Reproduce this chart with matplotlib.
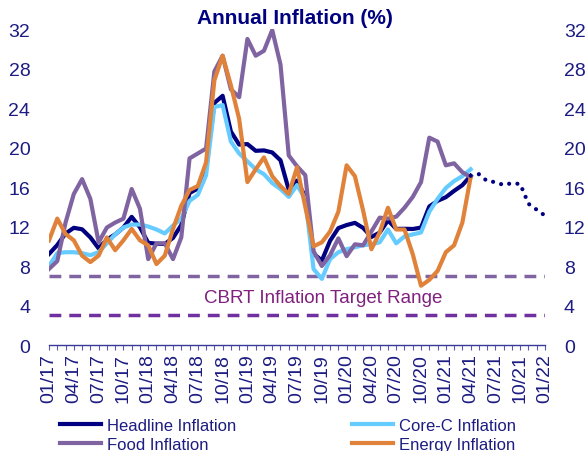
import numpy as np
import matplotlib.pyplot as plt
from matplotlib.ticker import MultipleLocator

# monthly values, Jan 2017 .. Apr 2021
headline = [9.22, 10.13, 11.29, 11.87, 11.72, 10.90, 9.79, 10.68, 11.20, 11.90, 12.98, 11.92,
            10.35, 10.26, 10.23, 10.85, 12.15, 15.39, 15.85, 17.90, 24.52, 25.24, 21.62, 20.30,
            20.35, 19.67, 19.71, 19.50, 18.71, 15.72, 16.65, 15.01, 9.26, 8.55, 10.56, 11.84,
            12.15, 12.37, 11.86, 10.94, 11.39, 12.62, 11.76, 11.77, 11.75, 11.89, 14.03, 14.60,
            14.97, 15.61, 16.19, 17.14]
core_c = [8.0, 9.3, 9.4, 9.4, 9.3, 9.1, 9.4, 10.3, 11.2, 11.9, 12.2, 12.2,
          12.0, 11.7, 11.3, 12.1, 12.8, 14.6, 15.2, 17.2, 24.1, 24.3, 20.6, 19.4,
          18.6, 17.8, 17.3, 16.4, 15.8, 15.0, 16.2, 14.8, 7.7, 6.7, 8.7, 9.4,
          9.7, 9.9, 10.1, 10.2, 10.4, 11.7, 10.3, 11.0, 11.2, 11.4, 13.5, 14.8,
          15.9, 16.6, 17.1, 17.8]
food = [7.7, 8.5, 12.4, 15.3, 16.8, 14.8, 10.4, 11.9, 12.4, 12.8, 15.8, 13.8,
        8.7, 10.3, 10.3, 8.7, 10.9, 18.9, 19.4, 19.9, 27.7, 29.3, 25.9, 25.1,
        31.0, 29.3, 29.8, 31.9, 28.4, 19.2, 18.1, 17.2, 9.5, 8.0, 9.1, 10.8,
        9.0, 10.2, 10.1, 11.5, 12.9, 12.8, 13.0, 13.9, 15.0, 16.5, 21.0, 20.6,
        18.2, 18.4, 17.5, 17.0]
energy = [10.6, 12.8, 11.25, 10.6, 9.05, 8.4, 9.05, 10.9, 9.6, 10.6, 11.75, 10.6,
          10.1, 8.2, 9.05, 11.75, 14.1, 15.7, 16.1, 18.5, 26.8, 29.3, 26.3, 22.9,
          16.5, 17.8, 19.0, 17.1, 16.1, 15.3, 18.0, 14.0, 10.0, 10.4, 11.5, 13.5,
          18.2, 17.1, 13.6, 9.7, 11.4, 13.9, 11.7, 11.7, 9.2, 6.0, 6.6, 7.5,
          9.4, 10.1, 12.4, 17.0]
# headline path, Apr 2021 .. Jan 2022 (dotted)
forecast = [17.14, 17.3, 16.6, 16.5, 16.2, 16.4, 16.3, 14.3, 13.7, 13.1]

target_upper = 7
target_lower = 3
tick_labels = ['01/17', '04/17', '07/17', '10/17', '01/18', '04/18', '07/18', '10/18',
               '01/19', '04/19', '07/19', '10/19', '01/20', '04/20', '07/20', '10/20',
               '01/21', '04/21', '07/21', '10/21', '01/22']

NAVY = '#000080'
LIGHT_BLUE = '#66CCFF'
PURPLE = '#8064A2'
ORANGE = '#E0823A'
TXT = '#1c1c82'

plt.rcParams['font.family'] = ['Liberation Sans', 'DejaVu Sans']

fig = plt.figure(figsize=(5.87, 4.52), dpi=100)
ax = fig.add_axes([0.0835, 0.2345, 0.845, 0.699])

x = np.arange(len(headline))
h1, = ax.plot(x, headline, color=NAVY, lw=3, label='Headline Inflation', zorder=3)
h2, = ax.plot(x, core_c, color=LIGHT_BLUE, lw=3, label='Core-C Inflation', zorder=3)
h3, = ax.plot(x, food, color=PURPLE, lw=3, label='Food Inflation', zorder=3)
h4, = ax.plot(x, energy, color=ORANGE, lw=3, label='Energy Inflation', zorder=3)

fx = np.arange(len(headline) - 1, len(headline) - 1 + len(forecast))
ax.plot(fx, forecast, color=NAVY, lw=3, ls=(0, (0.01, 2.0)),
        dash_capstyle='round', zorder=3)

ax.axhline(target_upper, color='#8064A2', lw=2.5, ls=(0, (3.4, 2.3)), zorder=2)
ax.axhline(target_lower, color='#7030A0', lw=2.5, ls=(0, (3.4, 2.3)), zorder=2)
ax.text(33.2, 4.85, 'CBRT Inflation Target Range', ha='center', va='center',
        fontsize=13.5, color='#80207f')

ax.set_xlim(0, 60)
ax.set_ylim(0, 32)
ax.set_yticks(np.arange(0, 33, 4))
ax.set_xticks(np.arange(0, 61, 3))
ax.set_xticklabels(tick_labels, rotation=90)
ax.xaxis.set_minor_locator(MultipleLocator(1))

for s in ['left', 'right', 'top']:
    ax.spines[s].set_visible(False)
ax.spines['bottom'].set_color('#3a3a9a')
ax.spines['bottom'].set_linewidth(1)

ax.tick_params(axis='y', length=0, labelleft=True, labelright=True, pad=13.5,
               labelsize=14, labelcolor=TXT)
ax.tick_params(axis='x', which='both', direction='out', length=3.5, width=0.8,
               color='#5a5aaa', pad=2.5, labelsize=14, labelcolor=TXT)

fig.text(0.503, 0.96, 'Annual Inflation (%)', ha='center', va='center',
         fontsize=15, fontweight='bold', color=NAVY)

leg = fig.legend(handles=[h1, h3, h2, h4], ncol=2, loc='upper left',
                 bbox_to_anchor=(0.102, 0.073), frameon=False, fontsize=12,
                 handlelength=2.45, handletextpad=0.36, columnspacing=6.95,
                 labelspacing=0.22, borderpad=0, borderaxespad=0)
for t in leg.get_texts():
    t.set_color(TXT)

fig.savefig('out.png', dpi=100)
